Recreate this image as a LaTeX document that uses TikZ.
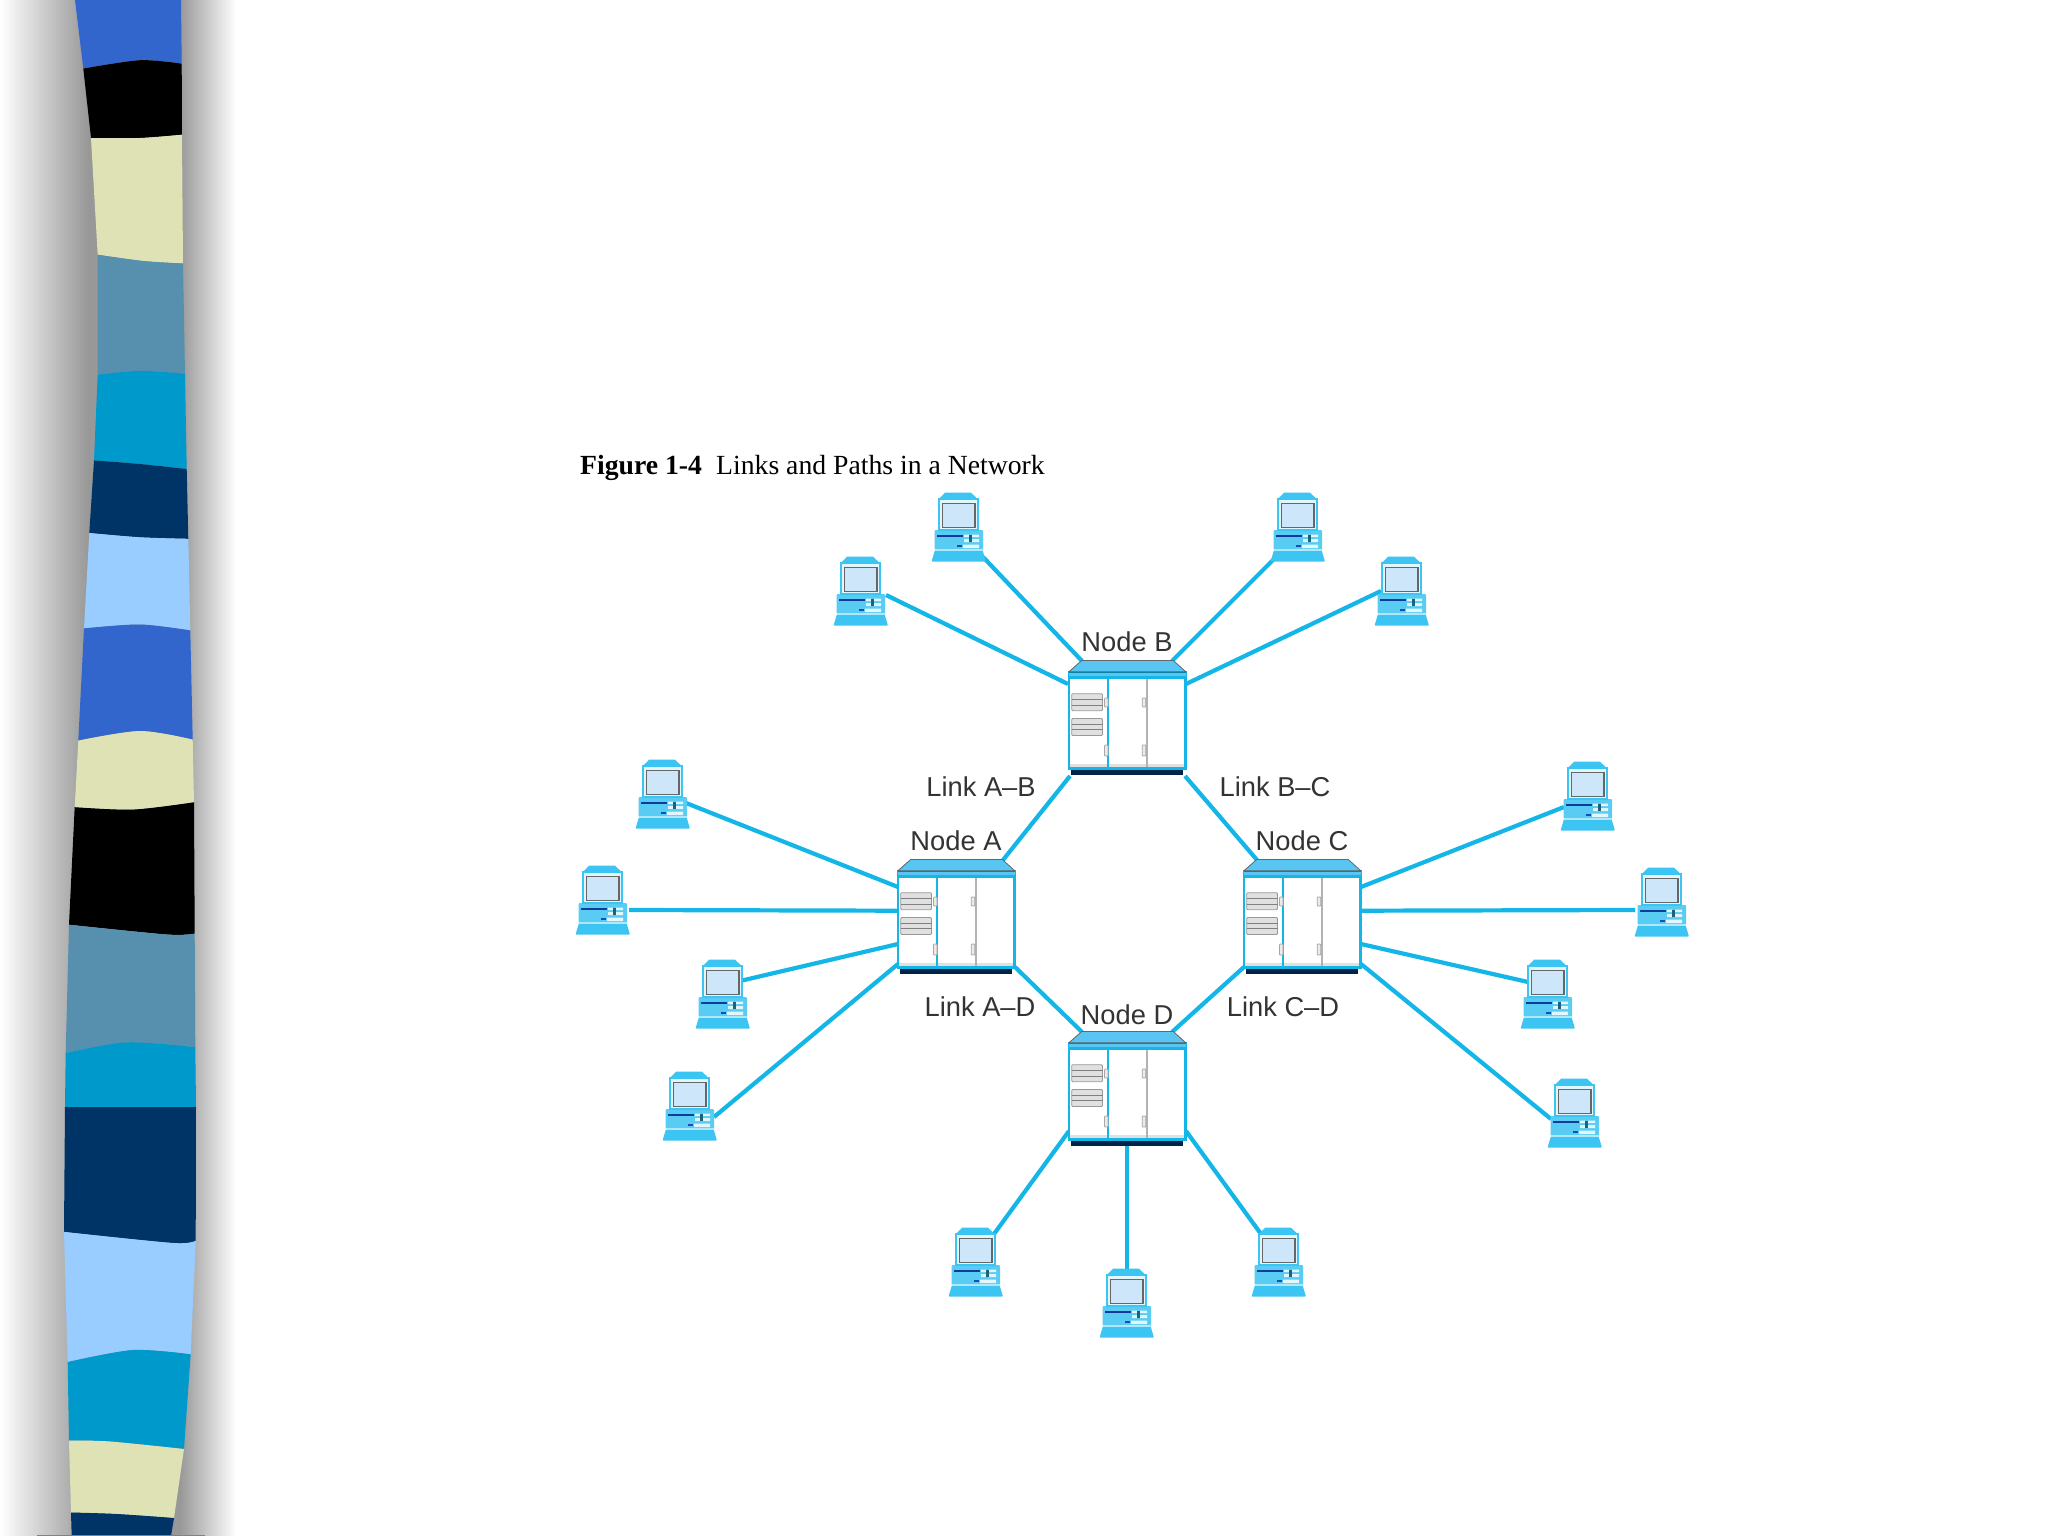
\documentclass[tikz,border=0pt]{standalone}
\usepackage{fontspec}
\setmainfont{Liberation Sans}
\newfontfamily\capfont{Liberation Serif}
\definecolor{stBlue}{HTML}{3366CC}
\definecolor{stCream}{HTML}{DFE2B5}
\definecolor{stTeal}{HTML}{5690AE}
\definecolor{stCyan}{HTML}{0099CC}
\definecolor{stNavy}{HTML}{003366}
\definecolor{stLight}{HTML}{99CCFF}
\definecolor{shGray}{HTML}{989898}
\definecolor{linkC}{HTML}{14B6E8}
\definecolor{roofC}{HTML}{58C5F2}
\definecolor{pcC}{HTML}{3CC4F2}
\definecolor{pcB}{HTML}{58CCF2}
\definecolor{screenC}{HTML}{CDE6FA}
\definecolor{lblC}{HTML}{333333}
\pgfdeclarelayer{bg}
\pgfdeclarelayer{strip}
\pgfsetlayers{strip,bg,main}
\newcommand\stripe[3]{\fill[#1] plot[smooth] coordinates {#2} -- plot[smooth] coordinates {#3} -- cycle;}
\tikzset{
  x=1pt,y=-1pt,
  devbox/.style={inner sep=0pt,outer sep=0pt,minimum width=58pt,minimum height=69pt},
  srvbox/.style={inner sep=0pt,outer sep=0pt,minimum width=118pt,minimum height=115pt},
  linkline/.style={draw=linkC,line width=4.2pt},
  lbl/.style={text=lblC,anchor=base,inner sep=0pt,font=\fontsize{27.3}{30}\selectfont},
  pcicon/.pic={
    \fill[pcC,rounded corners=1pt] (-27.5,33.7) -- (-24,22) -- (23.5,22) -- (27,33.7) -- cycle;
    \fill[pcB,rounded corners=1pt] (-24.5,2) rectangle (24,22);
    \fill[white!60!pcC] (-24,21.3) rectangle (23.5,22.6);
    \draw[pcC,fill=white!85!pcC,line width=1.6pt] (-20,-29) rectangle (18.7,2);
    \fill[pcC] (-20,-29) -- (-14,-35.3) -- (12,-35.3) -- (18.7,-29) -- cycle;
    \draw[fill=screenC,draw=black!60,line width=1.3pt] (-16.3,-24.7) rectangle (16,-0.3);
    \fill[black!55!blue!70!pcC] (-22,7) rectangle (3.7,9.3);
    \fill[black!45!blue!60!pcC] (-2,17) rectangle (3,18.5);
    \fill[white!85!pcC] (5,6.5) rectangle (10,9) (13,6.5) rectangle (20,9)
                 (5,11) rectangle (10,14) (13,11) rectangle (20,14)
                 (4,16.5) rectangle (20,20);
    \fill[black!50!pcC] (10,6.5) rectangle (13,14);
  },
  servericon/.pic={
    \fill[white] (-58,-46) rectangle (58.7,50);
    \fill[black!12] (-57,46) rectangle (57,50);
    \draw[black!30,line width=2.2pt] (20.3,-40) -- (20.3,50);
    \draw[linkC,line width=2.6pt] (-58,-46) rectangle (58.7,50.5);
    \fill[roofC] (-58,-45) rectangle (58.7,-41);
    \draw[linkC,line width=2.6pt] (-58,-40.5) -- (58.7,-40.5);
    \draw[linkC,line width=2.6pt] (-19,-40) -- (-19,50);
    \draw[fill=roofC,draw=black!60,line width=0.8pt] (-45.3,-57.5) -- (46.3,-57.5) -- (58.7,-46.3) -- (-58,-46.3) -- cycle;
    \fill[linkC!70!black] (-58,-46.3) rectangle (58.7,-44.6);
    \fill[stNavy!70!black] (-55.8,52.3) rectangle (56.3,57.2);
    \foreach \yy in {-24.3,0.5}{
      \draw[fill=black!12,draw=black!40,line width=0.8pt,rounded corners=1pt] (-55.3,\yy) rectangle (-24.5,\yy+17);
      \draw[black!50,line width=1pt] (-55.3,\yy+5.7) -- (-24.5,\yy+5.7) (-55.3,\yy+11.3) -- (-24.5,\yy+11.3);
    }
    \foreach \hx in {-22.5,15.2}{
      \draw[black!35,fill=black!8,line width=0.8pt,rounded corners=0.8pt] (\hx,-20) rectangle (\hx+3.6,-11) (\hx,27) rectangle (\hx+3.6,38);
    }
  }
}
\newcommand\computer[3]{\node[devbox] (#1) at (#2,#3) {}; \pic at (#1.center) {pcicon};}
\newcommand\server[3]{\node[srvbox] (#1) at (#2,#3) {}; \pic at (#1.center) {servericon};}
\newcommand\wire[4]{\draw[linkline] ([shift={#2}]#1.center) -- ([shift={#4}]#3.center);}
\begin{document}
\begin{tikzpicture}
\useasboundingbox (0,0) rectangle (2048,1536);
\begin{pgfonlayer}{strip}
\fill[white] (0,0) rectangle (2048,1536);
\shade[left color=white,right color=shGray] (0,0) rectangle (88,1536);
\fill[shGray] (88,0) rectangle (180,1536);
\shade[left color=shGray,right color=white] (180,0) rectangle (236,1536);
\stripe{stBlue}{(75,0) (128,0) (181,0)}{(181.7,63.7) (140,60.2) (83.3,68.6)}
\stripe{black}{(83.3,68.6) (140,60.2) (181.7,63.7)}{(182,134.7) (140,138) (91,138)}
\stripe{stCream}{(91,138) (140,138) (182,134.7)}{(183,263.5) (143.3,261) (97.7,254.7)}
\stripe{stTeal}{(97.7,254.7) (143.3,261) (183,263.5)}{(185,373.7) (140,370.8) (97.7,374.7)}
\stripe{stCyan}{(97.7,374.7) (140,370.8) (185,373.7)}{(186.7,469) (140,464) (94,460.4)}
\stripe{stNavy}{(94,460.4) (140,464) (186.7,469)}{(188.3,538.8) (140,537.3) (89.3,533)}
\stripe{stLight}{(89.3,533) (140,537.3) (188.3,538.8)}{(190.3,630.4) (140,624.5) (84,628.4)}
\stripe{stBlue}{(84,628.4) (140,624.5) (190.3,630.4)}{(192.7,739.6) (140,731) (78.3,740.6)}
\stripe{stCream}{(78.3,740.6) (140,731) (192.7,739.6)}{(194,802.3) (133,809.6) (74.7,807.2)}
\stripe{black}{(74.7,807.2) (133,809.6) (194,802.3)}{(194.7,933.6) (167,934.5) (69,924.7)}
\stripe{stTeal}{(69,924.7) (167,934.5) (194.7,933.6)}{(195.3,1047.2) (127,1042.3) (65.7,1053)}
\stripe{stCyan}{(65.7,1053) (127,1042.3) (195.3,1047.2)}{(196,1107) (130,1107) (65,1107)}
\stripe{stNavy}{(65,1107) (130,1107) (196,1107)}{(195.7,1240.7) (173,1243) (64,1231.9)}
\stripe{stLight}{(64,1231.9) (173,1243) (195.7,1240.7)}{(190.7,1354.3) (133,1350) (67.7,1362)}
\stripe{stCyan}{(67.7,1362) (133,1350) (190.7,1354.3)}{(184,1449) (110,1441.5) (69,1440.5)}
\stripe{stCream}{(69,1440.5) (110,1441.5) (184,1449)}{(174,1518) (117,1514) (71,1512.5)}
\stripe{stNavy}{(71,1512.5) (117,1514) (174,1518)}{(171,1536) (120,1536) (71.7,1536)}
\fill[stTeal] (37,1534.6) rectangle (205,1536);
\end{pgfonlayer}
\node[anchor=base west,inner sep=0pt,font={\capfont\bfseries\fontsize{27.7}{32}\selectfont}] (figno) at (580,474) {Figure 1-4};
\node[anchor=base west,inner sep=0pt,font={\capfont\fontsize{27.7}{32}\selectfont}] (figtitle) at (716,474) {Links and Paths in a Network};
\server{A}{956}{917}
\server{B}{1127}{718}
\server{C}{1302}{917}
\server{D}{1127}{1089}
\computer{t1}{959}{528}
\computer{t2}{861}{592}
\computer{t3}{1298}{528}
\computer{t4}{1402}{592}
\computer{l1}{663}{795}
\computer{l2}{603}{901}
\computer{l3}{723}{995}
\computer{l4}{690}{1107}
\computer{r1}{1588}{797}
\computer{r2}{1662}{903}
\computer{r3}{1548}{995}
\computer{r4}{1575}{1114}
\computer{b1}{976}{1263}
\computer{b2}{1127}{1304}
\computer{b3}{1279}{1263}
\node[lbl] (lbB) at (1127,651) {Node B};
\node[lbl] (lbA) at (956,850) {Node A};
\node[lbl] (lbC) at (1302,850) {Node C};
\node[lbl] (lbD) at (1127,1024) {Node D};
\node[lbl] (lAB) at (981,796) {Link A–B};
\node[lbl] (lBC) at (1275,796) {Link B–C};
\node[lbl] (lAD) at (980,1016) {Link A–D};
\node[lbl] (lCD) at (1283,1016) {Link C–D};
\begin{pgfonlayer}{bg}
\wire{t1}{(24,29)}{B}{(-45,-57)}
\wire{t2}{(25,3)}{B}{(-59,-34)}
\wire{t3}{(-24,31)}{B}{(45,-57)}
\wire{t4}{(-21,-1)}{B}{(59,-34)}
\wire{l1}{(23,8)}{A}{(-58,-30)}
\wire{l2}{(26,9)}{A}{(-58,-6.3)}
\wire{l3}{(17,-14)}{A}{(-58,27)}
\wire{l4}{(24,10)}{A}{(-58,47)}
\wire{r1}{(-24,10)}{C}{(59,-30)}
\wire{r2}{(-27,7)}{C}{(59,-6.3)}
\wire{r3}{(-20,-13)}{C}{(59,27)}
\wire{r4}{(-24,5)}{C}{(59,47)}
\wire{b1}{(18,-29)}{D}{(-58,42)}
\wire{b2}{(0,-34)}{D}{(0,52)}
\wire{b3}{(-18,-29)}{D}{(59,42)}
\wire{A}{(47,-57)}{B}{(-57,58)}
\wire{B}{(58,58)}{C}{(-45,-57)}
\wire{A}{(59,50)}{D}{(-45,-57)}
\wire{C}{(-58,50)}{D}{(45,-57)}
\end{pgfonlayer}
\end{tikzpicture}
\end{document}
